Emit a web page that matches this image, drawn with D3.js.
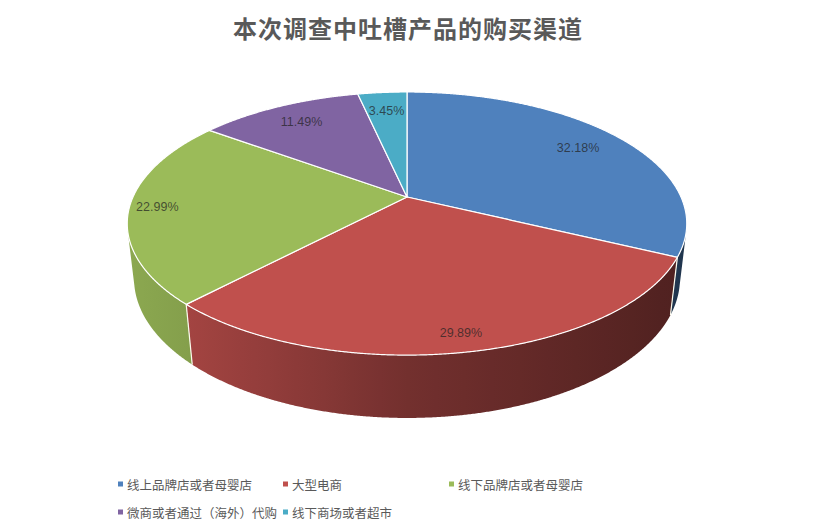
<!DOCTYPE html>
<html>
<head>
<meta charset="utf-8">
<script src="https://cdn.jsdelivr.net/npm/d3@7"></script>
<style>
  html, body { margin: 0; padding: 0; background: #ffffff; }
  svg { display: block; }
</style>
</head>
<body>
<div id="chart"></div>
<script>
// ---- data ----
const title = "本次调查中吐槽产品的购买渠道";
const categories = ["线上品牌店或者母婴店", "大型电商", "线下品牌店或者母婴店", "微商或者通过（海外）代购", "线下商场或者超市"];
const values = [32.18, 29.89, 22.99, 11.49, 3.45];
const labels = ["32.18%", "29.89%", "22.99%", "11.49%", "3.45%"];
const colors = ["#4F81BD", "#C0504D", "#9BBB59", "#8064A2", "#4BACC6"];

// ---- layout ----
const W = 814, H = 532;
const cx = 407, cy = 197;          // projected pie centre
const sinA = 0.4606, cosA = 0.8876; // view tilt
const D0 = 4.40;                    // camera distance (unit radius)
const f = 274 * D0;                 // focal factor
const thick = 0.228;                // pie thickness (unit radius)

const svg = d3.select("#chart").append("svg")
  .attr("width", W).attr("height", H)
  .style("font-family", "'Noto Sans CJK SC', 'Noto Sans', sans-serif");
const defs = svg.append("defs");

function project(theta, r, yw) {
  const x = r * Math.sin(theta), z = r * Math.cos(theta);
  const Y = yw * cosA + z * sinA;
  const D = D0 + z * cosA - yw * sinA;
  return [cx + f * x / D, cy - f * Y / D, D];
}

const pie = d3.pie().sort(null).value(d => d)
  .startAngle(0).endAngle(2 * Math.PI);
const arcs = pie(values);

// shading of the cylinder wall by screen x
const shadeDomain = [128, 190, 407, 688];
const shade = d3.scaleLinear().domain(shadeDomain).range([0.9, 0.85, 0.6, 0.41]).clamp(true);
function shadeColor(base, k) {
  const c = d3.rgb(base);
  return d3.rgb(c.r * k, c.g * k, c.b * k).formatHex();
}
colors.forEach((c, i) => {
  const g = defs.append("linearGradient").attr("id", "wall" + i)
    .attr("gradientUnits", "userSpaceOnUse")
    .attr("x1", shadeDomain[0]).attr("x2", shadeDomain[3]).attr("y1", 0).attr("y2", 0);
  d3.range(0, 1.0001, 0.05).forEach(t => {
    const x = shadeDomain[0] + t * (shadeDomain[3] - shadeDomain[0]);
    g.append("stop").attr("offset", t).attr("stop-color", shadeColor(c, shade(x)));
  });
});

// ---- walls (visible front part of the cylinder) ----
const tVisMin = Math.acos(-1 / (D0 * cosA)), tVisMax = 2 * Math.PI - tVisMin;
const step = Math.PI / 720;
const line = d3.line();
const walls = [];
arcs.forEach((a, i) => {
  const t0 = Math.max(a.startAngle, tVisMin - 0.01), t1 = Math.min(a.endAngle, tVisMax + 0.01);
  if (t1 <= t0) return;
  const n = Math.max(2, Math.ceil((t1 - t0) / step));
  const top = [], bot = [];
  for (let j = 0; j <= n; j++) {
    const t = t0 + (t1 - t0) * j / n;
    top.push(project(t, 1, 0));
    bot.push(project(t, 1, -thick));
  }
  const pts = top.concat(bot.reverse()).map(p => [p[0], p[1]]);
  walls.push({ i, d: line(pts) + "Z" });
});
svg.append("g").selectAll("path").data(walls).join("path")
  .attr("d", d => d.d)
  .attr("fill", d => `url(#wall${d.i})`);

// boundary lines on visible wall
const visible = t => t > tVisMin && t < tVisMax;
svg.append("g").selectAll("line")
  .data(arcs.map(a => a.endAngle).filter(t => visible(t)))
  .join("line")
  .attr("x1", t => project(t, 1, 0)[0]).attr("y1", t => project(t, 1, 0)[1])
  .attr("x2", t => project(t, 1, -thick)[0]).attr("y2", t => project(t, 1, -thick)[1])
  .attr("stroke", "#fbfbee").attr("stroke-width", 1.2);

// ---- top faces ----
function topPath(a) {
  const pts = [project(0, 0, 0)];
  const n = Math.max(2, Math.ceil((a.endAngle - a.startAngle) / step));
  for (let j = 0; j <= n; j++) {
    const t = a.startAngle + (a.endAngle - a.startAngle) * j / n;
    pts.push(project(t, 1, 0));
  }
  return line(pts.map(p => [p[0], p[1]])) + "Z";
}
svg.append("g").selectAll("path").data(arcs).join("path")
  .attr("d", topPath)
  .attr("fill", (d, i) => colors[i])
  .attr("stroke", "#ffffff")
  .attr("stroke-width", 1.2)
  .attr("stroke-linejoin", "round");

// ---- labels ----
function labelPos(d) {
  const m = (d.startAngle + d.endAngle) / 2;
  return project(m, Math.cos(m) < 0 ? 0.9 : 0.8, 0);
}
svg.append("g").selectAll("text").data(arcs).join("text")
  .attr("x", d => labelPos(d)[0])
  .attr("y", d => labelPos(d)[1])
  .attr("text-anchor", "middle")
  .attr("dominant-baseline", "central")
  .style("font-family", "'Liberation Sans', Arial, sans-serif")
  .style("font-size", "12.5px")
  .attr("fill", "#222222")
  .attr("fill-opacity", 0.72)
  .text((d, i) => labels[i]);

// ---- title ----
svg.append("text")
  .attr("x", 408).attr("y", 27)
  .attr("text-anchor", "middle")
  .attr("dominant-baseline", "central")
  .style("font-family", "'Noto Sans CJK SC', sans-serif")
  .style("font-size", "24px")
  .style("font-weight", "bold")
  .style("letter-spacing", "1px")
  .attr("fill", "#595959")
  .text(title);

// ---- legend ----
const colX = [118, 283, 449], rowY = [484, 512];
const leg = svg.append("g").selectAll("g").data(categories).join("g")
  .attr("transform", (d, i) => `translate(${colX[i % 3]},${rowY[Math.floor(i / 3)]})`);
leg.append("rect").attr("x", 0).attr("y", -2.5).attr("width", 5).attr("height", 5)
  .attr("fill", (d, i) => colors[i]);
leg.append("text").attr("x", 9).attr("y", 0)
  .attr("dominant-baseline", "central")
  .style("font-size", "12.5px")
  .attr("fill", "#595959")
  .text(d => d);
</script>
</body>
</html>
